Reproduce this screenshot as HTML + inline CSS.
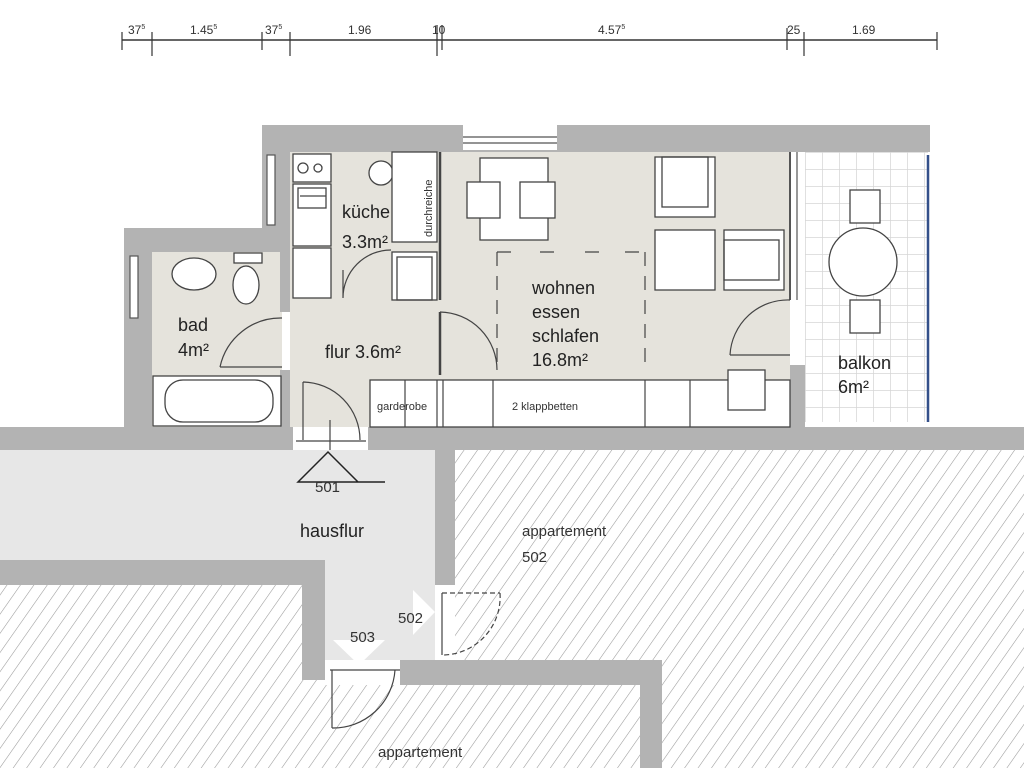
<!DOCTYPE html>
<html><head><meta charset="utf-8"><style>
html,body{margin:0;padding:0;background:#fff;}
svg{display:block;font-family:"Liberation Sans",sans-serif;}
</style></head><body>
<svg width="1024" height="768" viewBox="0 0 1024 768" xmlns="http://www.w3.org/2000/svg">
<defs>
<pattern id="h" width="11" height="11" patternUnits="userSpaceOnUse" patternTransform="rotate(35)">
<rect width="11" height="11" fill="#fff"/><line x1="0" y1="0" x2="0" y2="11" stroke="#999" stroke-width="1.1"/>
</pattern>
<pattern id="t" width="17" height="17" patternUnits="userSpaceOnUse" x="805" y="152">
<rect width="17" height="17" fill="#fff"/><path d="M0 0H17M0 0V17" stroke="#d6d6d6" stroke-width="1.5"/>
</pattern>
</defs>

<g stroke="#333" stroke-width="1.5" fill="none">
<line x1="122" y1="40" x2="937" y2="40"/>
<g stroke-width="1.2">
<line x1="122" y1="32" x2="122" y2="50"/><line x1="152" y1="32" x2="152" y2="56"/>
<line x1="262" y1="32" x2="262" y2="50"/><line x1="290" y1="32" x2="290" y2="56"/>
<line x1="437" y1="25" x2="437" y2="56"/><line x1="442" y1="25" x2="442" y2="50"/>
<line x1="787" y1="28" x2="787" y2="50"/><line x1="804" y1="32" x2="804" y2="56"/>
<line x1="937" y1="32" x2="937" y2="50"/>
</g></g>
<g font-size="12" fill="#333">
<text x="128" y="34">37<tspan font-size="7" dy="-5">5</tspan></text>
<text x="190" y="34">1.45<tspan font-size="7" dy="-5">5</tspan></text>
<text x="265" y="34">37<tspan font-size="7" dy="-5">5</tspan></text>
<text x="348" y="34">1.96</text>
<text x="432" y="34">10</text>
<text x="598" y="34">4.57<tspan font-size="7" dy="-5">5</tspan></text>
<text x="787" y="34">25</text>
<text x="852" y="34">1.69</text>
</g>

<rect x="455" y="450" width="569" height="318" fill="url(#h)"/>
<rect x="0" y="585" width="325" height="183" fill="url(#h)"/>
<rect x="325" y="685" width="315" height="83" fill="url(#h)"/>
<rect x="0" y="450" width="435" height="110" fill="#e7e7e7"/>
<rect x="325" y="560" width="110" height="100" fill="#e7e7e7"/>
<g fill="#b3b3b3">
<rect x="435" y="450" width="20" height="135"/>
<rect x="0" y="560" width="325" height="25"/>
<rect x="302" y="560" width="23" height="120"/>
<rect x="400" y="660" width="262" height="25"/>
<rect x="640" y="660" width="22" height="108"/>
</g>

<rect x="152" y="252" width="130" height="178" fill="#e5e3dc"/>
<rect x="290" y="152" width="500" height="275" fill="#e5e3dc"/>
<rect x="805" y="152" width="123" height="270" fill="url(#t)"/>
<rect x="790" y="300" width="15" height="125" fill="#fff"/>

<g fill="#b3b3b3">
<rect x="262" y="125" width="668" height="27"/>
<rect x="262" y="152" width="28" height="76"/>
<rect x="124" y="228" width="166" height="24"/>
<rect x="124" y="252" width="28" height="178"/>
<rect x="280" y="252" width="10" height="60"/>
<rect x="280" y="370" width="10" height="57"/>
<rect x="0" y="427" width="293" height="23"/>
<rect x="368" y="427" width="656" height="23"/>
<rect x="790" y="365" width="15" height="62"/>
</g>
<rect x="463" y="125" width="94" height="25" fill="#fff"/>
<g stroke="#555" fill="none" stroke-width="1.2">
<line x1="463" y1="137" x2="557" y2="137"/><line x1="463" y1="143" x2="557" y2="143"/>
<rect x="267" y="155" width="8" height="70" fill="#fff"/>
<rect x="130" y="256" width="8" height="62" fill="#fff"/>
<line x1="790" y1="152" x2="790" y2="300" stroke-width="2"/><line x1="797" y1="152" x2="797" y2="300"/>
</g>
<line x1="928" y1="155" x2="928" y2="422" stroke="#34508a" stroke-width="2.5"/>

<g stroke="#444" stroke-width="1.3" fill="#fff">
<rect x="293" y="154" width="38" height="28"/>
<circle cx="303" cy="168" r="5"/><circle cx="318" cy="168" r="4"/>
<rect x="293" y="184" width="38" height="62"/>
<rect x="298" y="188" width="28" height="20"/>
<rect x="293" y="248" width="38" height="50"/>
<circle cx="381" cy="173" r="12"/>
<rect x="392" y="152" width="45" height="90"/>
<rect x="392" y="252" width="45" height="48"/><rect x="397" y="257" width="35" height="43" fill="none"/>
<ellipse cx="194" cy="274" rx="22" ry="16"/>
<rect x="234" y="253" width="28" height="10"/><ellipse cx="246" cy="285" rx="13" ry="19"/>
<rect x="153" y="376" width="128" height="50"/><rect x="165" y="380" width="108" height="42" rx="18"/>
<rect x="480" y="158" width="68" height="82"/>
<rect x="467" y="182" width="33" height="36"/><rect x="520" y="182" width="35" height="36"/>
<rect x="655" y="157" width="60" height="60"/><rect x="662" y="157" width="46" height="50" fill="none"/>
<rect x="655" y="230" width="60" height="60"/>
<rect x="724" y="230" width="60" height="60"/><rect x="724" y="240" width="55" height="40" fill="none"/>
<rect x="370" y="380" width="420" height="47"/>
<rect x="728" y="370" width="37" height="40"/>
<ellipse cx="863" cy="262" rx="34" ry="34"/>
<rect x="850" y="190" width="30" height="33"/><rect x="850" y="300" width="30" height="33"/>
</g>
<g stroke="#444" stroke-width="1.2" fill="none">
<line x1="405" y1="380" x2="405" y2="427"/><line x1="437" y1="380" x2="437" y2="427"/>
<line x1="443" y1="380" x2="443" y2="427"/><line x1="493" y1="380" x2="493" y2="427"/>
<line x1="645" y1="380" x2="645" y2="427"/><line x1="690" y1="380" x2="690" y2="427"/>
<line x1="440" y1="152" x2="440" y2="300" stroke-width="2.5"/>
<line x1="440" y1="312" x2="440" y2="375" stroke-width="2.5"/>
<line x1="300" y1="196" x2="326" y2="196"/>
<path d="M497 252 V365 M645 252 V365 M497 252 H515 M540 252 H560 M585 252 H605 M625 252 H645" stroke-dasharray="14 10"/>
<path d="M343 298 A48 48 0 0 1 391 250 M343 298 V270"/>
<path d="M220 367 A62 62 0 0 1 282 318 M220 367 H282"/>
<path d="M440 312 A58 58 0 0 1 497 370"/>
<path d="M730 355 A58 58 0 0 1 790 300 M730 355 H790"/>
<path d="M303 382 A58 58 0 0 1 360 440 M303 382 V440"/>
<line x1="296" y1="441" x2="366" y2="441"/>
<line x1="330" y1="420" x2="330" y2="450"/>
<path d="M298 482 L328 452 L358 482 Z M298 482 H385" stroke="#222" stroke-width="1.5"/>
<path d="M442 593 H500 M500 593 A58 58 0 0 1 442 655" stroke-dasharray="5 3"/>
<line x1="442" y1="593" x2="442" y2="655"/>
<path d="M330 670 H400 M332 670 V728 M395 670 A62 62 0 0 1 332 728"/>
</g>
<polygon points="333,640 385,640 359,665" fill="#fff"/>
<polygon points="413,590 435,612 413,635" fill="#fff"/>

<g fill="#222" font-size="18">
<text x="342" y="218">küche</text><text x="342" y="248">3.3m²</text>
<text x="178" y="331">bad</text><text x="178" y="356">4m²</text>
<text x="325" y="358">flur 3.6m²</text>
<text x="532" y="294">wohnen</text><text x="532" y="318">essen</text>
<text x="532" y="342">schlafen</text><text x="532" y="366">16.8m²</text>
<text x="838" y="369">balkon</text><text x="838" y="393">6m²</text>
<text x="300" y="537">hausflur</text>
</g>
<text x="432" y="237" font-size="11" fill="#333" transform="rotate(-90 432 237)">durchreiche</text>
<g font-size="11" fill="#333">
<text x="377" y="410">garderobe</text><text x="512" y="410">2 klappbetten</text>
</g>
<g font-size="15" fill="#333">
<text x="315" y="492">501</text>
<text x="522" y="536">appartement</text><text x="522" y="562">502</text>
<text x="398" y="623">502</text><text x="350" y="642">503</text>
<text x="378" y="757">appartement</text>
</g>
</svg>
</body></html>
